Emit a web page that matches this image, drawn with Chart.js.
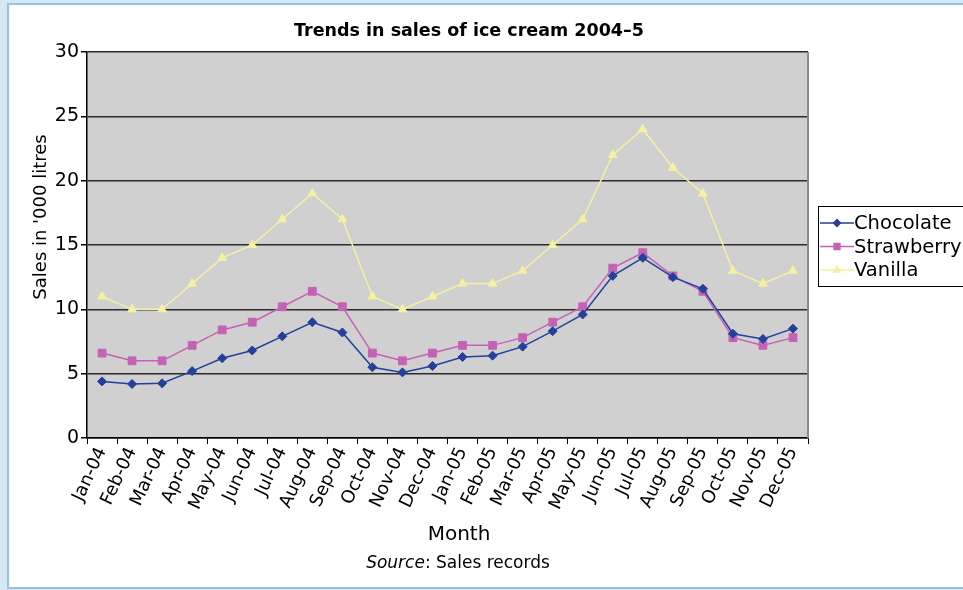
<!DOCTYPE html>
<html>
<head>
<meta charset="utf-8">
<script src="https://cdn.jsdelivr.net/npm/chart.js@4.4.0/dist/chart.umd.min.js"></script>
<style>
  html, body { margin: 0; padding: 0; background: #d7e7f5; width: 963px; height: 590px; overflow: hidden; }
  #panel { position: absolute; left: 7px; top: 3px; width: 960px; height: 582px; background: #fff; border: 2px solid #95c1e8; }
  #wrap { position: absolute; left: 0; top: 0; width: 963px; height: 590px; }
</style>
</head>
<body>
<div id="panel"></div>
<div id="wrap"><canvas id="myChart" width="963" height="590"></canvas></div>
<script>
var months = ['Jan-04','Feb-04','Mar-04','Apr-04','May-04','Jun-04','Jul-04','Aug-04','Sep-04','Oct-04','Nov-04','Dec-04',
              'Jan-05','Feb-05','Mar-05','Apr-05','May-05','Jun-05','Jul-05','Aug-05','Sep-05','Oct-05','Nov-05','Dec-05'];
var chocolate = [4.4, 4.2, 4.25, 5.2, 6.2, 6.8, 7.9, 9.0, 8.2, 5.5, 5.1, 5.6,
                 6.3, 6.4, 7.1, 8.3, 9.6, 12.6, 14.0, 12.5, 11.6, 8.1, 7.7, 8.5];
var strawberry = [6.6, 6.0, 6.0, 7.2, 8.4, 9.0, 10.2, 11.4, 10.2, 6.6, 6.0, 6.6,
                  7.2, 7.2, 7.8, 9.0, 10.2, 13.2, 14.4, 12.6, 11.4, 7.8, 7.2, 7.8];
var vanilla = [11, 10, 10, 12, 14, 15, 17, 19, 17, 11, 10, 11,
               12, 12, 13, 15, 17, 22, 24, 21, 19, 13, 12, 13];
var yTicks = [0, 5, 10, 15, 20, 25, 30];

var FONT = '"DejaVu Sans", "Liberation Sans", Arial, sans-serif';

var series = [
  { label: 'Chocolate', data: chocolate, color: '#25409a', point: 'rectRot', radius: 4.5 },
  { label: 'Strawberry', data: strawberry, color: '#c463b4', point: 'rect', radius: 5.5 },
  { label: 'Vanilla', data: vanilla, color: '#f6f1a2', point: 'triangle', radius: 5 }
];

// grey plot background and right border
var plotBg = {
  id: 'plotBg',
  beforeDraw: function(chart) {
    var a = chart.chartArea, c = chart.ctx;
    c.save();
    c.fillStyle = '#cfd0cf';
    c.fillRect(a.left, a.top, a.right - a.left, a.bottom - a.top);
    c.restore();
  },
  beforeDatasetsDraw: function(chart) {
    var a = chart.chartArea, c = chart.ctx;
    c.save();
    c.strokeStyle = '#8a8a8a';
    c.lineWidth = 2;
    c.beginPath();
    c.moveTo(a.right, a.top);
    c.lineTo(a.right, a.bottom);
    c.stroke();
    c.restore();
  }
};

// titles, source note and boxed legend
var texts = {
  id: 'texts',
  afterDraw: function(chart) {
    var a = chart.chartArea, c = chart.ctx;
    c.save();
    c.fillStyle = '#000';
    c.textBaseline = 'middle';
    c.textAlign = 'center';
    c.font = 'bold 17.5px ' + FONT;
    c.fillText('Trends in sales of ice cream 2004\u20135', 469, 31);
    c.font = '20px ' + FONT;
    c.fillText('Month', 459, 535);

    c.font = 'italic 17px ' + FONT;
    var w1 = c.measureText('Source').width;
    c.font = '17px ' + FONT;
    var w2 = c.measureText(': Sales records').width;
    var sx = 458 - (w1 + w2) / 2;
    c.textAlign = 'left';
    c.font = 'italic 17px ' + FONT;
    c.fillText('Source', sx, 564);
    c.font = '17px ' + FONT;
    c.fillText(': Sales records', sx + w1, 564);

    c.save();
    c.translate(41, 217);
    c.rotate(-Math.PI / 2);
    c.textAlign = 'center';
    c.font = '18px ' + FONT;
    c.fillText("Sales in '000 litres", 0, 0);
    c.restore();

    // legend
    var lx = a.right + 10, ly = 206, lw = 160, lh = 80;
    c.fillStyle = '#fff';
    c.fillRect(lx, ly, lw, lh);
    c.strokeStyle = '#000';
    c.lineWidth = 1;
    c.strokeRect(lx + 0.5, ly + 0.5, lw, lh);
    for (var i = 0; i < series.length; i++) {
      var s = series[i];
      var y = ly + 17 + i * 23.5;
      c.strokeStyle = s.color;
      c.lineWidth = 1.5;
      c.beginPath();
      c.moveTo(lx + 2, y);
      c.lineTo(lx + 36, y);
      c.stroke();
      c.fillStyle = s.color;
      Chart.helpers.drawPoint(c, { pointStyle: s.point, radius: s.radius * 0.75, borderWidth: 1, rotation: 0 }, lx + 19, y);
      c.fillStyle = '#000';
      c.font = '19.5px ' + FONT;
      c.textAlign = 'left';
      c.fillText(s.label, lx + 36, y + 1);
    }
    c.restore();
  }
};

var ctx = document.getElementById('myChart');
var myLineChart = new Chart(ctx, {
  type: 'line',
  data: {
    labels: months,
    datasets: series.map(function(s) {
      return {
        label: s.label,
        data: s.data,
        borderColor: s.color,
        backgroundColor: s.color,
        borderWidth: 1.5,
        pointStyle: s.point,
        pointRadius: s.radius,
        pointBorderWidth: 1,
        pointBorderColor: s.color,
        pointBackgroundColor: s.color,
        fill: false,
        tension: 0
      };
    })
  },
  options: {
    responsive: false,
    animation: false,
    layout: { padding: { left: 37, right: 155, top: 52, bottom: 0 } },
    plugins: {
      legend: { display: false },
      title: { display: false },
      tooltip: { enabled: false }
    },
    scales: {
      x: {
        offset: true,
        afterFit: function(scale) { scale.height = 152; },
        grid: {
          display: true,
          offset: true,
          drawOnChartArea: false,
          drawTicks: true,
          tickLength: 6,
          color: '#000',
          tickColor: '#000'
        },
        border: { display: true, color: '#000', width: 1.5 },
        ticks: {
          autoSkip: false,
          maxRotation: 65,
          minRotation: 65,
          padding: 0,
          color: '#000',
          font: { family: FONT, size: 18 }
        }
      },
      y: {
        min: 0,
        max: 30,
        afterFit: function(scale) { scale.width = 50; },
        afterBuildTicks: function(scale) {
          scale.ticks = yTicks.map(function(v) { return { value: v }; });
        },
        grid: {
          color: '#2b2b2b',
          lineWidth: 1.5,
          drawTicks: true,
          tickLength: 6,
          tickColor: '#000'
        },
        border: { display: true, color: '#000', width: 1.5 },
        ticks: {
          padding: 2,
          color: '#000',
          font: { family: FONT, size: 19 }
        }
      }
    }
  },
  plugins: [plotBg, texts]
});
</script>
</body>
</html>
